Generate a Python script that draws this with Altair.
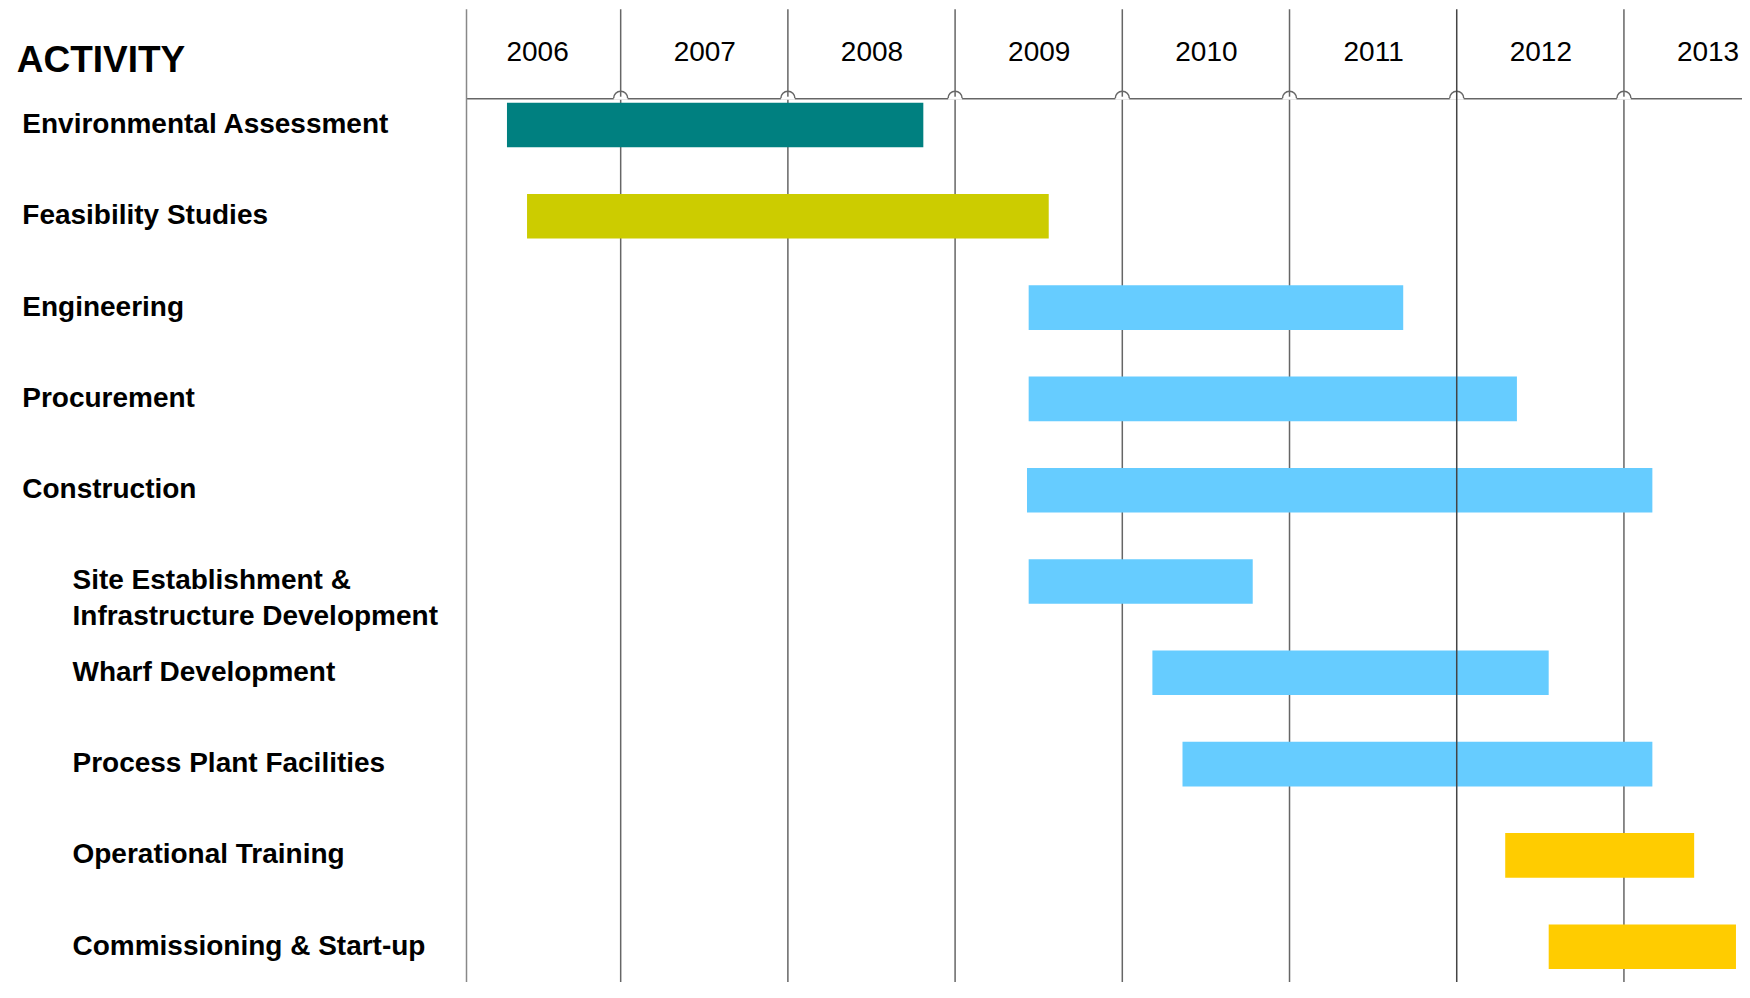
import altair as alt
import pandas as pd

# ---------------- data ----------------
tasks = [
    "Environmental Assessment",
    "Feasibility Studies",
    "Engineering",
    "Procurement",
    "Construction",
    "Site Establishment &\nInfrastructure Development",
    "Wharf Development",
    "Process Plant Facilities",
    "Operational Training",
    "Commissioning & Start-up",
]
starts = [2006.32, 2006.44, 2009.44, 2009.44, 2009.43, 2009.44, 2010.18, 2010.36, 2012.29, 2012.55]
ends = [2008.81, 2009.56, 2011.68, 2012.36, 2013.17, 2010.78, 2012.55, 2013.17, 2013.42, 2013.67]
phases = ["Environmental", "Feasibility", "Development", "Development", "Development",
          "Development", "Development", "Development", "Operation", "Operation"]
levels = [0, 0, 0, 0, 0, 1, 1, 1, 1, 1]

years = [2006, 2007, 2008, 2009, 2010, 2011, 2012, 2013]
gridline_years = [2007, 2008, 2009, 2010, 2011, 2012, 2013]
header = ["ACTIVITY"]

phase_domain = ["Environmental", "Feasibility", "Development", "Operation"]
phase_colors = ["#008080", "#CCCC00", "#66CCFF", "#FFCC00"]

df = pd.DataFrame({"task": tasks, "start": starts, "end": ends,
                   "phase": phases, "level": levels})
grid_df = pd.DataFrame({"year": gridline_years})
edge_df = pd.DataFrame({"edge": [0]})
header_df = pd.DataFrame({"label": header})

# ---------------- layout ----------------
W, H = 1275.5, 884
TOP_EXT = -89
FONT = "Liberation Sans, Arial, sans-serif"
LINE = "#666666"
LW = 1.5

x_scale = alt.Scale(domain=[2006.078, 2013.706], nice=False, zero=False)
y_scale = alt.Scale(domain=tasks, paddingInner=0.5115, paddingOuter=0.097, align=0.254)

x_axis = alt.Axis(
    orient="top", values=[y + 0.5 for y in years], labelExpr="floor(datum.value)",
    ticks=False, tickSize=0, grid=False, domain=True, domainColor=LINE, domainWidth=LW,
    labelFont=FONT, labelFontSize=28, labelColor="black", labelPadding=45.7,
    labelBaseline="middle", labelOverlap=False, labelFlush=False, labelBound=False,
)

bars = alt.Chart(df).mark_bar(opacity=1).encode(
    x=alt.X("start:Q", scale=x_scale, axis=x_axis, title=None),
    x2="end:Q",
    y=alt.Y("task:N", scale=y_scale, axis=None, sort=None),
    color=alt.Color("phase:N", scale=alt.Scale(domain=phase_domain, range=phase_colors), legend=None),
)

left_edge = alt.Chart(edge_df).mark_rule(color="#888888", strokeWidth=LW).encode(
    x=alt.value(0), y=alt.value(TOP_EXT), y2=alt.value(H)
)

grid = alt.Chart(grid_df).transform_filter("datum.year != 2012").mark_rule(
    color=LINE, strokeWidth=LW
).encode(
    x=alt.X("year:Q", scale=x_scale, title=None),
    y=alt.value(TOP_EXT), y2=alt.value(H),
)

grid_top = alt.Chart(grid_df).transform_filter("datum.year == 2012").mark_rule(
    color="#444444", strokeWidth=LW, opacity=1
).encode(
    x=alt.X("year:Q", scale=x_scale, title=None),
    y=alt.value(TOP_EXT), y2=alt.value(H),
)

gap = alt.Chart(grid_df).mark_point(
    shape="M-1,0L1,0", size=196, filled=False, color="white", strokeWidth=3, opacity=1
).encode(x=alt.X("year:Q", scale=x_scale, title=None), y=alt.value(0))

jumps = alt.Chart(grid_df).mark_point(
    shape="M-1,0A1,1 0 0,1 1,0", size=196, filled=False, color=LINE, strokeWidth=LW, opacity=1
).encode(x=alt.X("year:Q", scale=x_scale, title=None), y=alt.value(0))

label_style = dict(align="left", baseline="middle", font=FONT, fontSize=28,
                   fontWeight="bold", color="black", lineBreak="\n", lineHeight=36)

main_labels = alt.Chart(df).transform_filter("datum.level == 0").mark_text(**label_style).encode(
    x=alt.value(-444.2),
    y=alt.Y("task:N", scale=y_scale, title=None, sort=None),
    text="task:N",
)
sub_labels = alt.Chart(df).transform_filter("datum.level == 1").mark_text(**label_style).encode(
    x=alt.value(-394.0),
    y=alt.Y("task:N", scale=y_scale, title=None, sort=None),
    text="task:N",
)

header_text = alt.Chart(header_df).mark_text(
    align="left", baseline="middle", font=FONT, fontSize=37, fontWeight="bold", color="black"
).encode(x=alt.value(-449.8), y=alt.value(-36.8), text="label:N")

chart = alt.layer(
    left_edge, grid, gap, jumps, bars, grid_top, main_labels, sub_labels, header_text
).properties(
    width=W, height=H,
    autosize=alt.AutoSizeParams(type="none"),
    padding={"left": 458.5, "top": 90.2, "right": 0, "bottom": 0},
    background="white",
).configure_view(strokeWidth=0)

chart.save("out.html", embed_options={"renderer": "svg", "actions": False})
